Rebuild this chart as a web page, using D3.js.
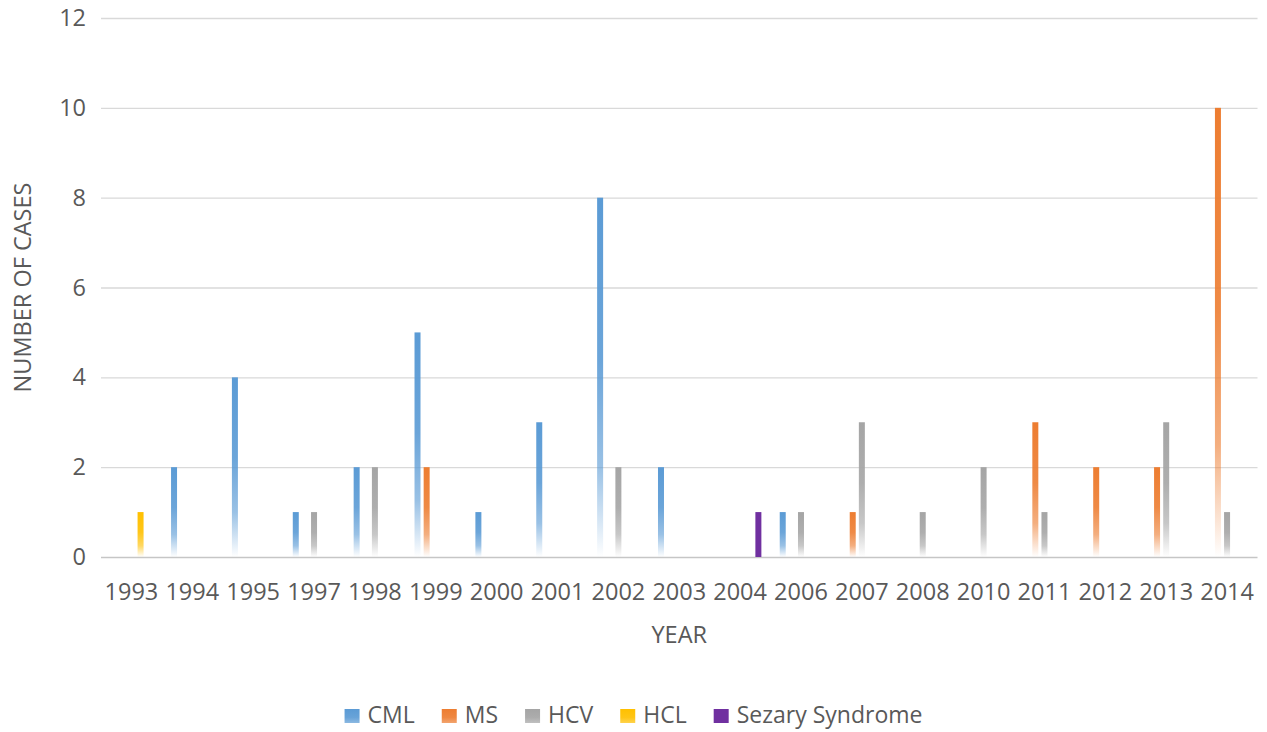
<!DOCTYPE html>
<html>
<head>
<meta charset="utf-8">
<script src="https://cdn.jsdelivr.net/npm/d3@7"></script>
<style>
  html, body { margin: 0; padding: 0; background: #ffffff; }
  svg { display: block; font-family: "Open Sans", "Noto Sans", sans-serif; }
</style>
</head>
<body>
<svg id="chart" width="1267" height="732"></svg>
<script>
// ---- data ----
const years = ["1993","1994","1995","1997","1998","1999","2000","2001","2002","2003","2004","2006","2007","2008","2010","2011","2012","2013","2014"];
const seriesNames = ["CML", "MS", "HCV", "HCL", "Sezary Syndrome"];
const cmlValues    = [0,2,4,1,2,5,1,3,8,2,0,1,0,0,0,0,0,0,0];
const msValues     = [0,0,0,0,0,2,0,0,0,0,0,0,1,0,0,3,2,2,10];
const hcvValues    = [0,0,0,1,2,0,0,0,2,0,0,1,3,1,2,1,0,3,1];
const hclValues    = [1,0,0,0,0,0,0,0,0,0,0,0,0,0,0,0,0,0,0];
const sezaryValues = [0,0,0,0,0,0,0,0,0,0,1,0,0,0,0,0,0,0,0];
const yTicks = [0, 2, 4, 6, 8, 10, 12];
const seriesColors = ["#5B9BD5", "#ED7D31", "#A5A5A5", "#FFC000", "#7030A0"];
const seriesGradient = [true, true, true, true, false];

const seriesValues = [cmlValues, msValues, hcvValues, hclValues, sezaryValues];
const table = years.map((yr, i) => {
  const row = { year: yr };
  seriesNames.forEach((s, j) => { row[s] = seriesValues[j][i]; });
  return row;
});

// ---- layout ----
const W = 1267, H = 732;
const plotL = 101, plotR = 1257.5, plotT = 18, plotB = 557;
const textColor = "#595959";

const svg = d3.select("#chart");
const defs = svg.append("defs");

seriesNames.forEach((s, j) => {
  const g = defs.append("linearGradient")
    .attr("id", "grad" + j).attr("x1", 0).attr("y1", 0).attr("x2", 0).attr("y2", 1);
  const stops = seriesGradient[j]
    ? [[0, 1], [0.45, 0.9], [0.75, 0.62], [0.92, 0.2], [1, 0]]
    : [[0, 1], [1, 1]];
  stops.forEach(([o, op]) => g.append("stop").attr("offset", o)
    .attr("stop-color", seriesColors[j]).attr("stop-opacity", op));
  const lg = defs.append("linearGradient")
    .attr("id", "lgrad" + j).attr("x1", 0).attr("y1", 0).attr("x2", 0).attr("y2", 1);
  const lstops = seriesGradient[j] ? [[0, 1], [0.6, 0.92], [1, 0.7]] : [[0, 1], [1, 1]];
  lstops.forEach(([o, op]) => lg.append("stop").attr("offset", o)
    .attr("stop-color", seriesColors[j]).attr("stop-opacity", op));
});

const x0 = d3.scaleBand().domain(years).range([plotL, plotR])
  .paddingInner(0.25).paddingOuter(0.125);
const x1 = d3.scaleBand().domain(seriesNames).range([0, x0.bandwidth()])
  .paddingInner(0.343).paddingOuter(0.1715);
const y = d3.scaleLinear().domain([0, 12]).range([plotB, plotT]);

// gridlines + y tick labels
const yAxis = svg.append("g")
  .attr("transform", `translate(${plotL},0)`)
  .call(d3.axisLeft(y).tickValues(yTicks).tickSize(-(plotR - plotL)).tickPadding(15));
yAxis.select(".domain").remove();
yAxis.selectAll(".tick line")
  .attr("stroke", d => d === 0 ? "#c6c6c6" : "#d9d9d9")
  .attr("stroke-width", d => d === 0 ? 1.6 : 1.3);
yAxis.selectAll(".tick text")
  .attr("fill", textColor).style("font-size", "23.5px").style("font-family", "'Open Sans', sans-serif");

// bars
const groups = svg.append("g").selectAll("g")
  .data(table).join("g")
  .attr("transform", d => `translate(${x0(d.year)},0)`);
groups.selectAll("rect")
  .data(d => seriesNames.map((s, j) => ({ key: s, j, value: d[s] })).filter(e => e.value > 0))
  .join("rect")
  .attr("x", e => x1(e.key))
  .attr("width", x1.bandwidth())
  .attr("y", e => y(e.value))
  .attr("height", e => y(0) - y(e.value))
  .attr("fill", e => `url(#grad${e.j})`);

// x axis labels
const xAxis = svg.append("g")
  .attr("transform", `translate(0,${plotB})`)
  .call(d3.axisBottom(x0).tickSize(0).tickPadding(26));
xAxis.select(".domain").remove();
xAxis.selectAll(".tick text")
  .attr("fill", textColor).style("font-size", "23.5px").style("font-family", "'Open Sans', sans-serif");

// axis titles
svg.append("text")
  .attr("transform", `translate(31,${(plotT + plotB) / 2}) rotate(-90)`)
  .attr("text-anchor", "middle")
  .attr("fill", textColor).style("font-size", "23.5px")
  .text("NUMBER OF CASES");
svg.append("text")
  .attr("x", (plotL + plotR) / 2).attr("y", 643)
  .attr("text-anchor", "middle")
  .attr("fill", textColor).style("font-size", "23.5px")
  .text("YEAR");

// legend
const swatchW = 15, swatchH = 14;
const legend = svg.append("g");
const items = legend.selectAll("g").data(seriesNames).join("g");
items.append("rect")
  .attr("x", 0).attr("y", 709)
  .attr("width", swatchW).attr("height", swatchH)
  .attr("fill", (d, j) => `url(#lgrad${j})`);
items.append("text")
  .attr("x", swatchW + 8).attr("y", 723)
  .attr("fill", textColor).style("font-size", "23px")
  .text(d => d);
let cursor = 0;
const gap = 27;
items.each(function () {
  const w = swatchW + 8 + d3.select(this).select("text").node().getComputedTextLength();
  d3.select(this).attr("transform", `translate(${cursor},0)`);
  cursor += w + gap;
});
const totalW = cursor - gap;
legend.attr("transform", `translate(${W / 2 - totalW / 2},0)`);
</script>
</body>
</html>
